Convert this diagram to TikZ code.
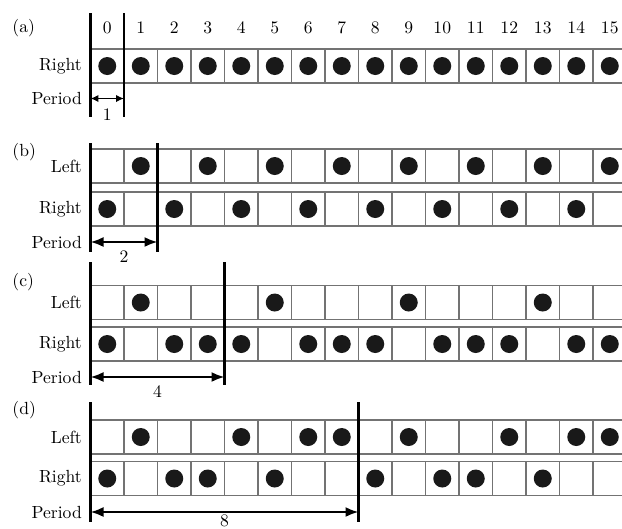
\documentclass[tikz,border=0pt]{standalone}
\usetikzlibrary{arrows.meta}

\begin{document}
\begin{tikzpicture}[
    x=0.67cm, y=1cm,
    cell/.style={draw=black!55, line width=0.75pt, minimum width=0.67cm,
                 minimum height=0.68cm, inner sep=0pt, outer sep=0pt},
    spot/.style={circle, fill=black!90, minimum size=0.36cm, inner sep=0pt},
    rowname/.style={anchor=east, inner sep=0pt},
    parttag/.style={anchor=west, inner sep=0pt},
    perline/.style={line width=1.4pt, black},
    perarrow/.style={{Latex[length=2.6mm, width=2mm]}-{Latex[length=2.6mm, width=2mm]},
                     line width=1.2pt},
    shortarrow/.style={{Latex[length=1.6mm, width=1.5mm]}-{Latex[length=1.6mm, width=1.5mm]},
                       line width=1pt},
]

% Frame -- cells run past the right edge
\useasboundingbox (-2.7015,-10.56) rectangle (15.8657,0);
\clip (-2.7015,-10.56) rectangle (15.8657,0);

% (a) -- one row, period 1
\node[parttag] (a-tag) at (-2.34,-0.56) {(a)};
\foreach \i in {0,...,15}
  \node (a-num-\i) at (\i+0.5,-0.56) {\i};
\foreach \i in {0,...,15} {
  \node[cell] (a-r-\i) at (\i+0.5,-1.32) {};
  \node[spot] (a-rd-\i) at (a-r-\i) {};
}
\node[rowname] (a-rname) at (-0.25,-1.32) {Right};
\node[rowname] (a-pname) at (-0.25,-1.97) {Period};

\coordinate (a-top0) at (0,-0.26);
\coordinate (a-bot0) at (0,-2.34);
\coordinate (a-top1) at (1,-0.26);
\coordinate (a-bot1) at (1,-2.34);
\draw[perline] (a-top0) -- (a-bot0);
\draw[perline] (a-top1) -- (a-bot1);
\coordinate (a-from) at (0,-1.97);
\coordinate (a-to)   at (1,-1.97);
\draw[shortarrow] (a-from) -- (a-to);
\node (a-len) at (0.5,-2.30) {1};

% (b) -- two rows, period 2
\node[parttag] (b-tag) at (-2.34,-3.04) {(b)};
\foreach \i in {0,...,15} {
  \node[cell] (b-l-\i) at (\i+0.5,-3.32) {};
  \node[cell] (b-r-\i) at (\i+0.5,-4.18) {};
}
\foreach \i in {1,3,...,15}
  \node[spot] (b-ld-\i) at (b-l-\i) {};
\foreach \i in {0,2,...,14}
  \node[spot] (b-rd-\i) at (b-r-\i) {};
\node[rowname] (b-lname) at (-0.25,-3.32) {Left};
\node[rowname] (b-rname) at (-0.25,-4.18) {Right};
\node[rowname] (b-pname) at (-0.25,-4.84) {Period};

\coordinate (b-top0) at (0,-2.86);
\coordinate (b-bot0) at (0,-5.04);
\coordinate (b-top2) at (2,-2.86);
\coordinate (b-bot2) at (2,-5.04);
\draw[perline] (b-top0) -- (b-bot0);
\draw[perline] (b-top2) -- (b-bot2);
\coordinate (b-from) at (0,-4.84);
\coordinate (b-to)   at (2,-4.84);
\draw[perarrow] (b-from) -- (b-to);
\node (b-len) at (1,-5.14) {2};

% (c) -- two rows, period 4
\node[parttag] (c-tag) at (-2.34,-5.64) {(c)};
\foreach \i in {0,...,15} {
  \node[cell] (c-l-\i) at (\i+0.5,-6.05) {};
  \node[cell] (c-r-\i) at (\i+0.5,-6.88) {};
}
\foreach \i in {1,5,9,13}
  \node[spot] (c-ld-\i) at (c-l-\i) {};
\foreach \i in {0,2,3,4,6,7,8,10,11,12,14,15}
  \node[spot] (c-rd-\i) at (c-r-\i) {};
\node[rowname] (c-lname) at (-0.25,-6.05) {Left};
\node[rowname] (c-rname) at (-0.25,-6.88) {Right};
\node[rowname] (c-pname) at (-0.25,-7.54) {Period};

\coordinate (c-top0) at (0,-5.24);
\coordinate (c-bot0) at (0,-7.70);
\coordinate (c-top4) at (4,-5.24);
\coordinate (c-bot4) at (4,-7.70);
\draw[perline] (c-top0) -- (c-bot0);
\draw[perline] (c-top4) -- (c-bot4);
\coordinate (c-from) at (0,-7.54);
\coordinate (c-to)   at (4,-7.54);
\draw[perarrow] (c-from) -- (c-to);
\node (c-len) at (2,-7.84) {4};

% (d) -- two rows, period 8
\node[parttag] (d-tag) at (-2.34,-8.20) {(d)};
\foreach \i in {0,...,15} {
  \node[cell] (d-l-\i) at (\i+0.5,-8.74) {};
  \node[cell] (d-r-\i) at (\i+0.5,-9.57) {};
}
\foreach \i in {1,4,6,7,9,12,14,15}
  \node[spot] (d-ld-\i) at (d-l-\i) {};
\foreach \i in {0,2,3,5,8,10,11,13}
  \node[spot] (d-rd-\i) at (d-r-\i) {};
\node[rowname] (d-lname) at (-0.25,-8.74) {Left};
\node[rowname] (d-rname) at (-0.25,-9.57) {Right};
\node[rowname] (d-pname) at (-0.25,-10.24) {Period};

\coordinate (d-top0) at (0,-8.04);
\coordinate (d-bot0) at (0,-10.44);
\coordinate (d-top8) at (8,-8.04);
\coordinate (d-bot8) at (8,-10.44);
\draw[perline] (d-top0) -- (d-bot0);
\draw[perline] (d-top8) -- (d-bot8);
\coordinate (d-from) at (0,-10.24);
\coordinate (d-to)   at (8,-10.24);
\draw[perarrow] (d-from) -- (d-to);
\node (d-len) at (4,-10.42) {8};

\end{tikzpicture}
\end{document}
